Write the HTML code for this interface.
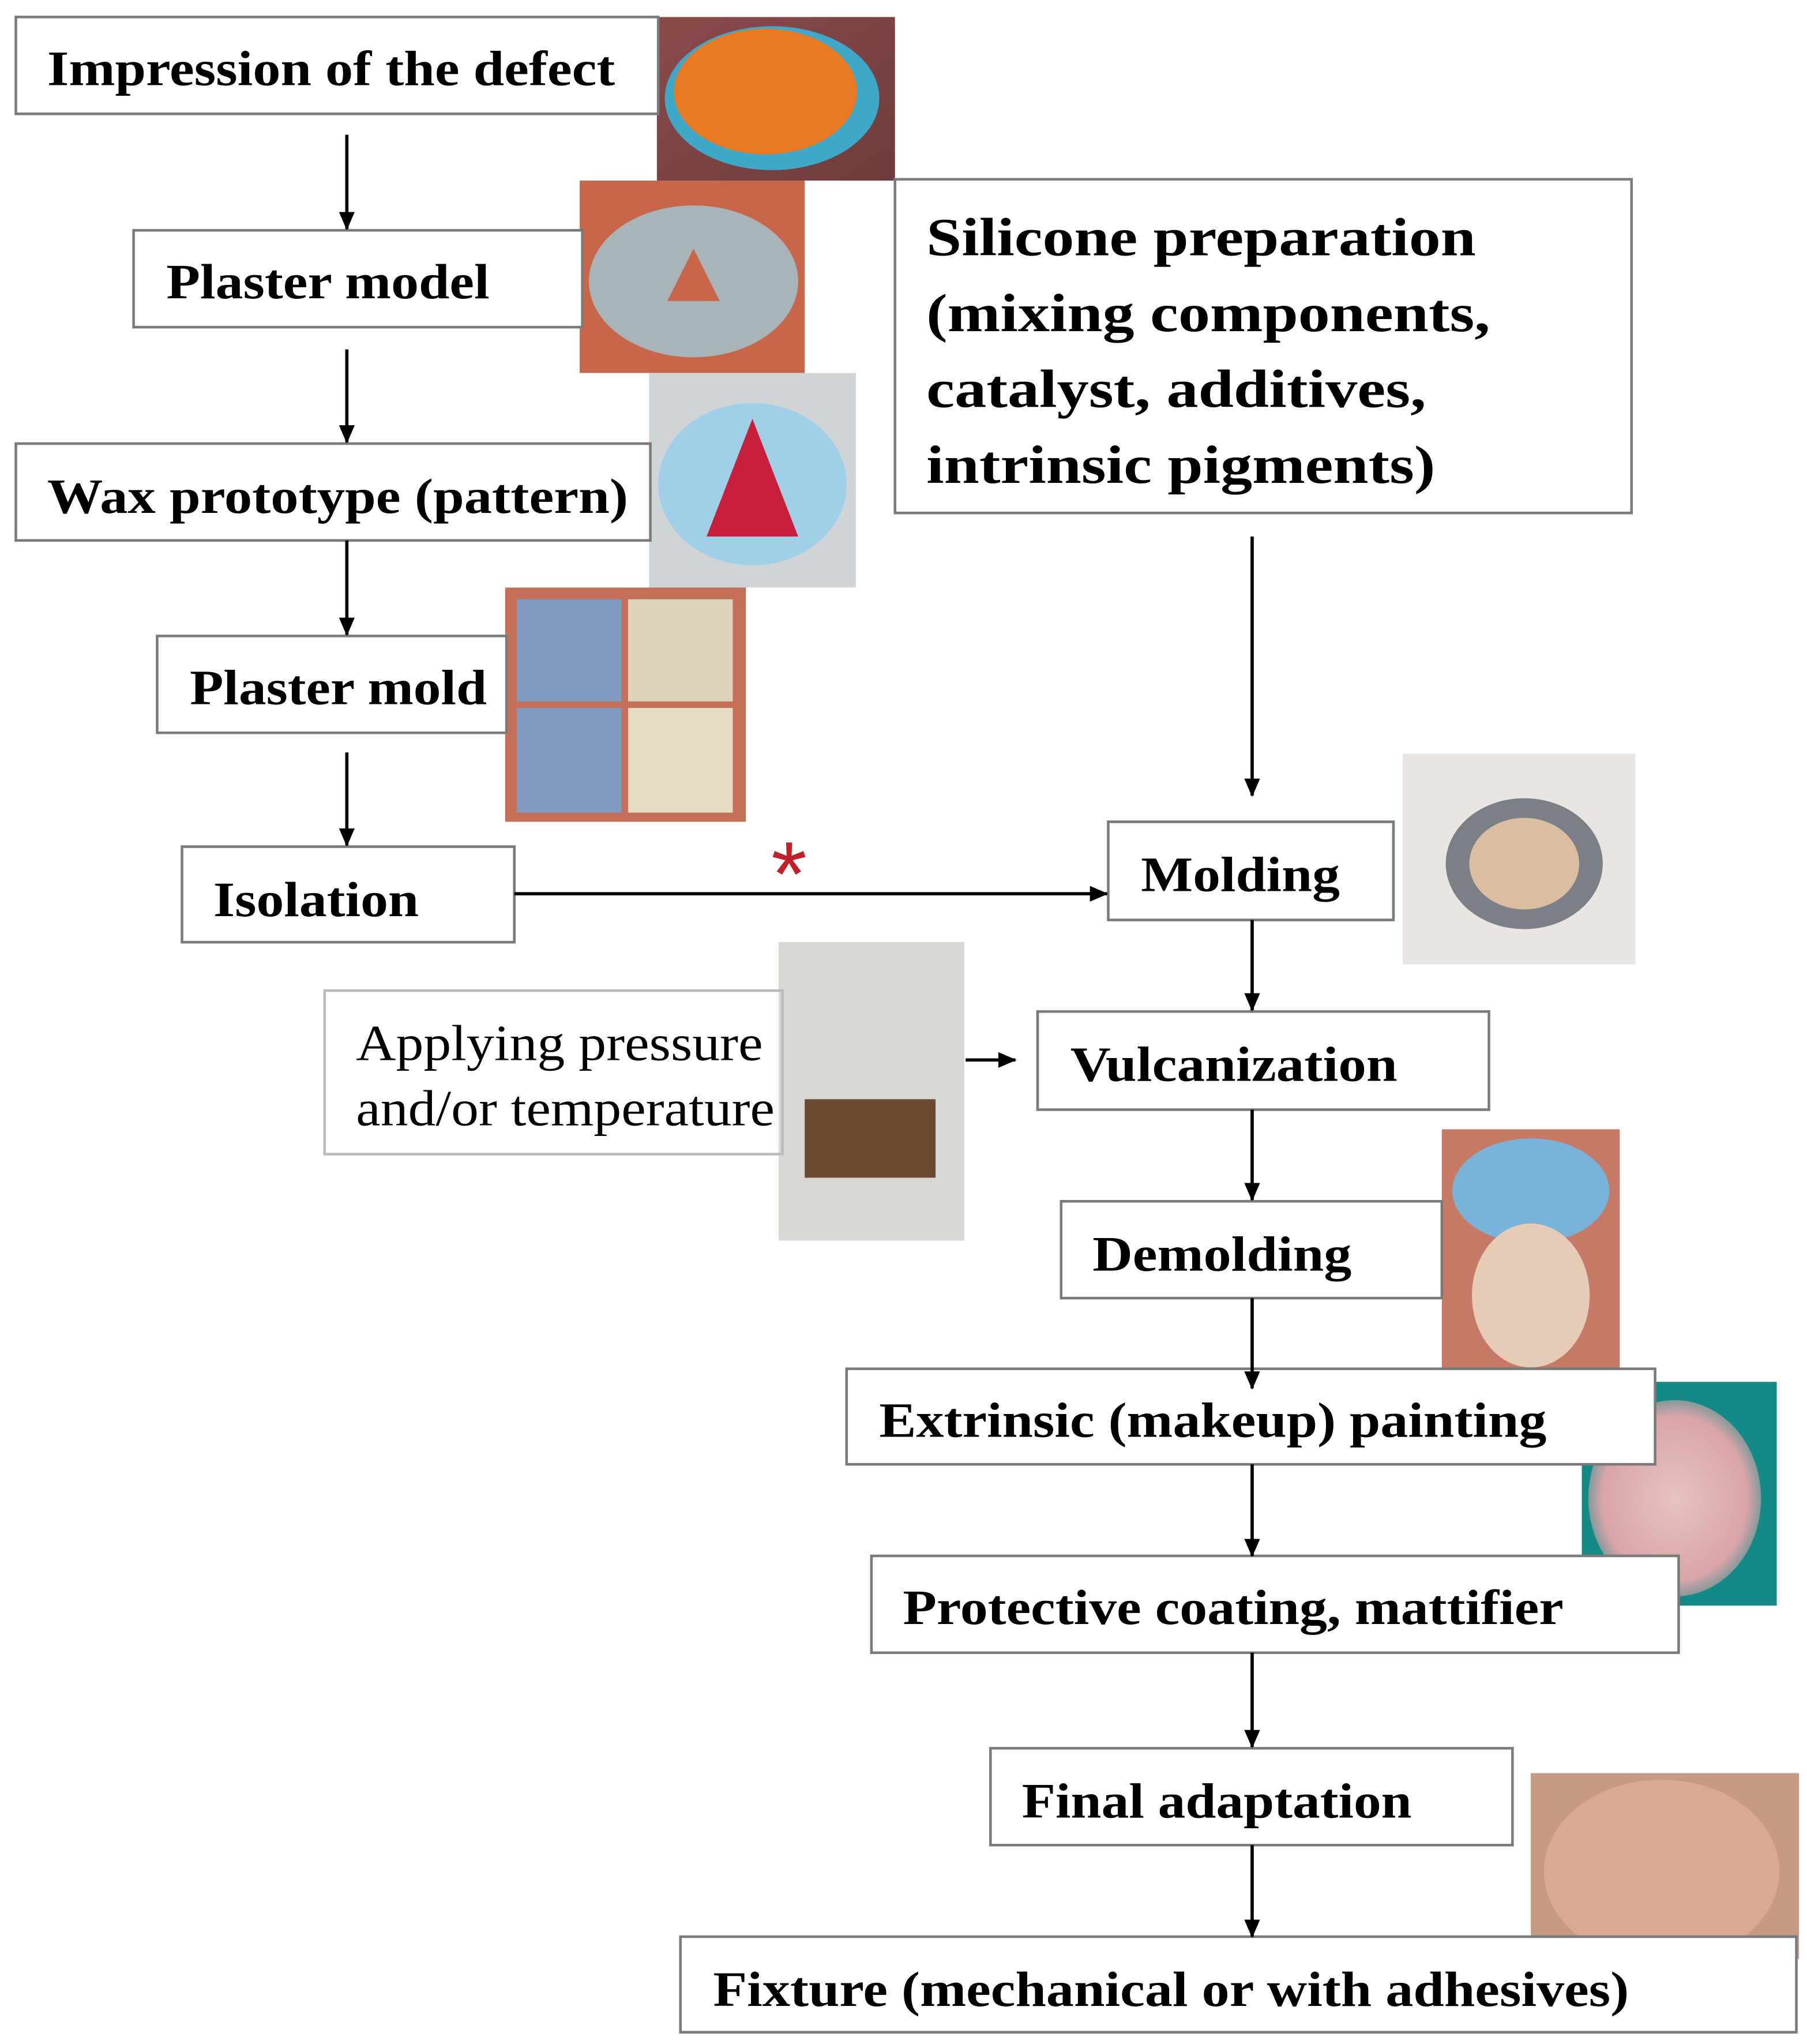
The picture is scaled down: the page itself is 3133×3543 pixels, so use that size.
<!DOCTYPE html>
<html><head><meta charset="utf-8"><style>
html,body{margin:0;padding:0;background:#fff;}
svg{display:block;}
.t{font-family:"Liberation Serif",serif;font-weight:bold;font-size:38px;fill:#000;}
.n{font-family:"Liberation Serif",serif;font-size:39px;fill:#000;}
.b{fill:#fff;stroke:#7a7a7a;stroke-width:2;}
.a{stroke:#000;stroke-width:2.5;fill:none;}
</style></head><body>
<svg width="3133" height="3543" viewBox="0 0 1381 1562" xmlns="http://www.w3.org/2000/svg">
<defs>
<marker id="ah" markerWidth="14" markerHeight="14" refX="13" refY="7" orient="auto" markerUnits="userSpaceOnUse"><path d="M0,1 L14,7 L0,13 z" fill="#000"/></marker>
<linearGradient id="g1" x1="0" y1="0" x2="1" y2="1"><stop offset="0" stop-color="#8a4a4a"/><stop offset="1" stop-color="#6e3c3c"/></linearGradient>
<radialGradient id="nose" cx="0.5" cy="0.5" r="0.6"><stop offset="0" stop-color="#e8c2c0"/><stop offset="0.7" stop-color="#d9a5a8"/><stop offset="1" stop-color="#1d8c88"/></radialGradient>
</defs>
<rect width="1381" height="1562" fill="#fff"/>

<!-- photos -->
<rect x="502" y="13" width="182" height="125" fill="url(#g1)"/>
<ellipse cx="590" cy="75" rx="82" ry="55" fill="#3fa8c8"/>
<ellipse cx="585" cy="70" rx="70" ry="48" fill="#e87a24"/>
<rect x="443" y="138" width="172" height="147" fill="#c8664a"/>
<ellipse cx="530" cy="215" rx="80" ry="58" fill="#a9b4b8"/>
<path d="M510 230 L530 190 L550 230 z" fill="#c8664a"/>
<rect x="496" y="285" width="158" height="164" fill="#cfd4d6"/>
<ellipse cx="575" cy="370" rx="72" ry="62" fill="#9fd0e8"/>
<path d="M540 410 L575 320 L610 410 z" fill="#c8203a"/>
<rect x="386" y="449" width="184" height="179" fill="#c46f58"/>
<rect x="395" y="458" width="80" height="78" fill="#7f9cc0"/><rect x="480" y="458" width="80" height="78" fill="#ddd3b8"/>
<rect x="395" y="541" width="80" height="80" fill="#7f9cc0"/><rect x="480" y="541" width="80" height="80" fill="#e5dcc4"/>
<rect x="1072" y="576" width="178" height="161" fill="#e9e6e2"/>
<ellipse cx="1165" cy="660" rx="60" ry="50" fill="#7b7f86"/><ellipse cx="1165" cy="660" rx="42" ry="35" fill="#d9bfa0"/>
<rect x="595" y="720" width="142" height="228" fill="#d7d7d4"/>
<rect x="615" y="840" width="100" height="60" fill="#6b4a32"/>
<rect x="1102" y="863" width="136" height="184" fill="#c67a66"/>
<ellipse cx="1170" cy="910" rx="60" ry="40" fill="#7ab3d8"/><ellipse cx="1170" cy="990" rx="45" ry="55" fill="#e6cbb7"/>
<rect x="1209" y="1056" width="149" height="171" fill="#148a86"/>
<ellipse cx="1280" cy="1145" rx="66" ry="75" fill="url(#nose)"/>
<rect x="1170" y="1355" width="205" height="142" fill="#c79a86"/>
<ellipse cx="1270" cy="1430" rx="90" ry="70" fill="#d9a996"/>

<!-- boxes -->
<rect class="b" x="12" y="13" width="491" height="74"/><text class="t" x="36" y="65" textLength="434" lengthAdjust="spacingAndGlyphs">Impression of the defect</text>
<rect class="b" x="102" y="176" width="343" height="74"/><text class="t" x="127" y="228" textLength="247" lengthAdjust="spacingAndGlyphs">Plaster model</text>
<rect class="b" x="12" y="339" width="485" height="74"/><text class="t" x="36" y="392" textLength="444" lengthAdjust="spacingAndGlyphs">Wax prototype (pattern)</text>
<rect class="b" x="120" y="486" width="267" height="74"/><text class="t" x="145" y="538" textLength="227" lengthAdjust="spacingAndGlyphs">Plaster mold</text>
<rect class="b" x="139" y="647" width="254" height="73"/><text class="t" x="163" y="700" textLength="157" lengthAdjust="spacingAndGlyphs">Isolation</text>
<rect class="b" x="684" y="137" width="563" height="255"/>
<text class="t" x="708" y="195" style="font-size:41px" textLength="420" lengthAdjust="spacingAndGlyphs">Silicone preparation</text>
<text class="t" x="708" y="253" style="font-size:41px" textLength="431" lengthAdjust="spacingAndGlyphs">(mixing components,</text>
<text class="t" x="708" y="311" style="font-size:41px" textLength="382" lengthAdjust="spacingAndGlyphs">catalyst, additives,</text>
<text class="t" x="708" y="369" style="font-size:41px" textLength="389" lengthAdjust="spacingAndGlyphs">intrinsic pigments)</text>
<rect class="b" x="847" y="628" width="218" height="75"/><text class="t" x="872" y="681" textLength="152" lengthAdjust="spacingAndGlyphs">Molding</text>
<rect x="248" y="757" width="350" height="125" fill="none" stroke="#bbb" stroke-width="2"/>
<text class="n" x="272" y="810" textLength="311" lengthAdjust="spacingAndGlyphs">Applying pressure</text><text class="n" x="272" y="860" textLength="320" lengthAdjust="spacingAndGlyphs">and/or temperature</text>
<rect class="b" x="793" y="773" width="345" height="75"/><text class="t" x="818" y="826" textLength="250" lengthAdjust="spacingAndGlyphs">Vulcanization</text>
<rect class="b" x="811" y="918" width="291" height="74"/><text class="t" x="835" y="971" textLength="198" lengthAdjust="spacingAndGlyphs">Demolding</text>
<rect class="b" x="647" y="1046" width="618" height="73"/><text class="t" x="672" y="1098" textLength="510" lengthAdjust="spacingAndGlyphs">Extrinsic (makeup) painting</text>
<rect class="b" x="666" y="1189" width="617" height="74"/><text class="t" x="690" y="1241" textLength="505" lengthAdjust="spacingAndGlyphs">Protective coating, mattifier</text>
<rect class="b" x="757" y="1336" width="399" height="74"/><text class="t" x="781" y="1389" textLength="298" lengthAdjust="spacingAndGlyphs">Final adaptation</text>
<rect class="b" x="520" y="1480" width="853" height="73"/><text class="t" x="545" y="1533" textLength="700" lengthAdjust="spacingAndGlyphs">Fixture (mechanical or with adhesives)</text>

<!-- arrows -->
<line class="a" x1="265" y1="103" x2="265" y2="175" marker-end="url(#ah)"/>
<line class="a" x1="265" y1="267" x2="265" y2="338" marker-end="url(#ah)"/>
<line class="a" x1="265" y1="413" x2="265" y2="485" marker-end="url(#ah)"/>
<line class="a" x1="265" y1="575" x2="265" y2="646" marker-end="url(#ah)"/>
<line class="a" x1="393" y1="683" x2="846" y2="683" marker-end="url(#ah)"/>
<text x="603" y="692" text-anchor="middle" style="font-family:'Liberation Sans',sans-serif;font-size:70px;fill:#c0202a">*</text>
<line class="a" x1="957" y1="410" x2="957" y2="608" marker-end="url(#ah)"/>
<line class="a" x1="957" y1="703" x2="957" y2="772" marker-end="url(#ah)"/>
<line class="a" x1="738" y1="810" x2="776" y2="810" marker-end="url(#ah)"/>
<line class="a" x1="957" y1="848" x2="957" y2="917" marker-end="url(#ah)"/>
<line class="a" x1="957" y1="992" x2="957" y2="1061" marker-end="url(#ah)"/>
<line class="a" x1="957" y1="1119" x2="957" y2="1189" marker-end="url(#ah)"/>
<line class="a" x1="957" y1="1263" x2="957" y2="1335" marker-end="url(#ah)"/>
<line class="a" x1="957" y1="1410" x2="957" y2="1480" marker-end="url(#ah)"/>
</svg>
</body></html>
